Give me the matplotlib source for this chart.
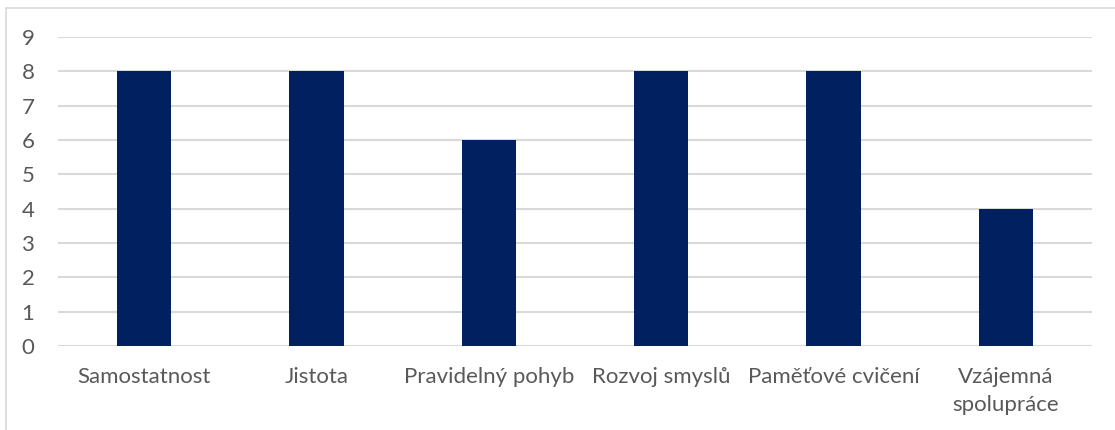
import matplotlib.pyplot as plt
from matplotlib.patches import Rectangle

categories = ["Samostatnost", "Jistota", "Pravidelný pohyb", "Rozvoj smyslů",
              "Paměťové cvičení", "Vzájemná\nspolupráce"]
values = [8, 8, 6, 8, 8, 4]
yticks = list(range(0, 10))

plt.rcParams['font.family'] = ['Lato', 'DejaVu Sans']

fig = plt.figure(figsize=(11.15, 4.3), dpi=100)
ax = fig.add_axes([58 / 1115, 1 - 346 / 430, (1092 - 58) / 1115, (346 - 37) / 430])

# light frame round the chart area
fig.patches.append(Rectangle((6 / 1115, -0.05), 1.2, 1 - 8 / 430 + 0.05,
                             transform=fig.transFigure, fill=False,
                             edgecolor="#d9d9d9", linewidth=1.2))

x = range(len(categories))
ax.bar(x, values, width=0.315, color="#002060", zorder=3)

ax.set_xlim(-0.5, len(categories) - 0.5)
ax.set_ylim(0, 9)
ax.set_yticks(yticks)
ax.set_xticks(list(x))
ax.set_xticklabels(categories, fontsize=16, color="#595959", linespacing=1.5)
ax.tick_params(axis="y", labelsize=16, labelcolor="#595959", length=0, pad=17)
ax.tick_params(axis="x", length=0, pad=15)
ax.grid(axis="y", color="#d9d9d9", linewidth=1.5, zorder=0)
for s in ax.spines.values():
    s.set_visible(False)

fig.savefig("out.png", dpi=100)
